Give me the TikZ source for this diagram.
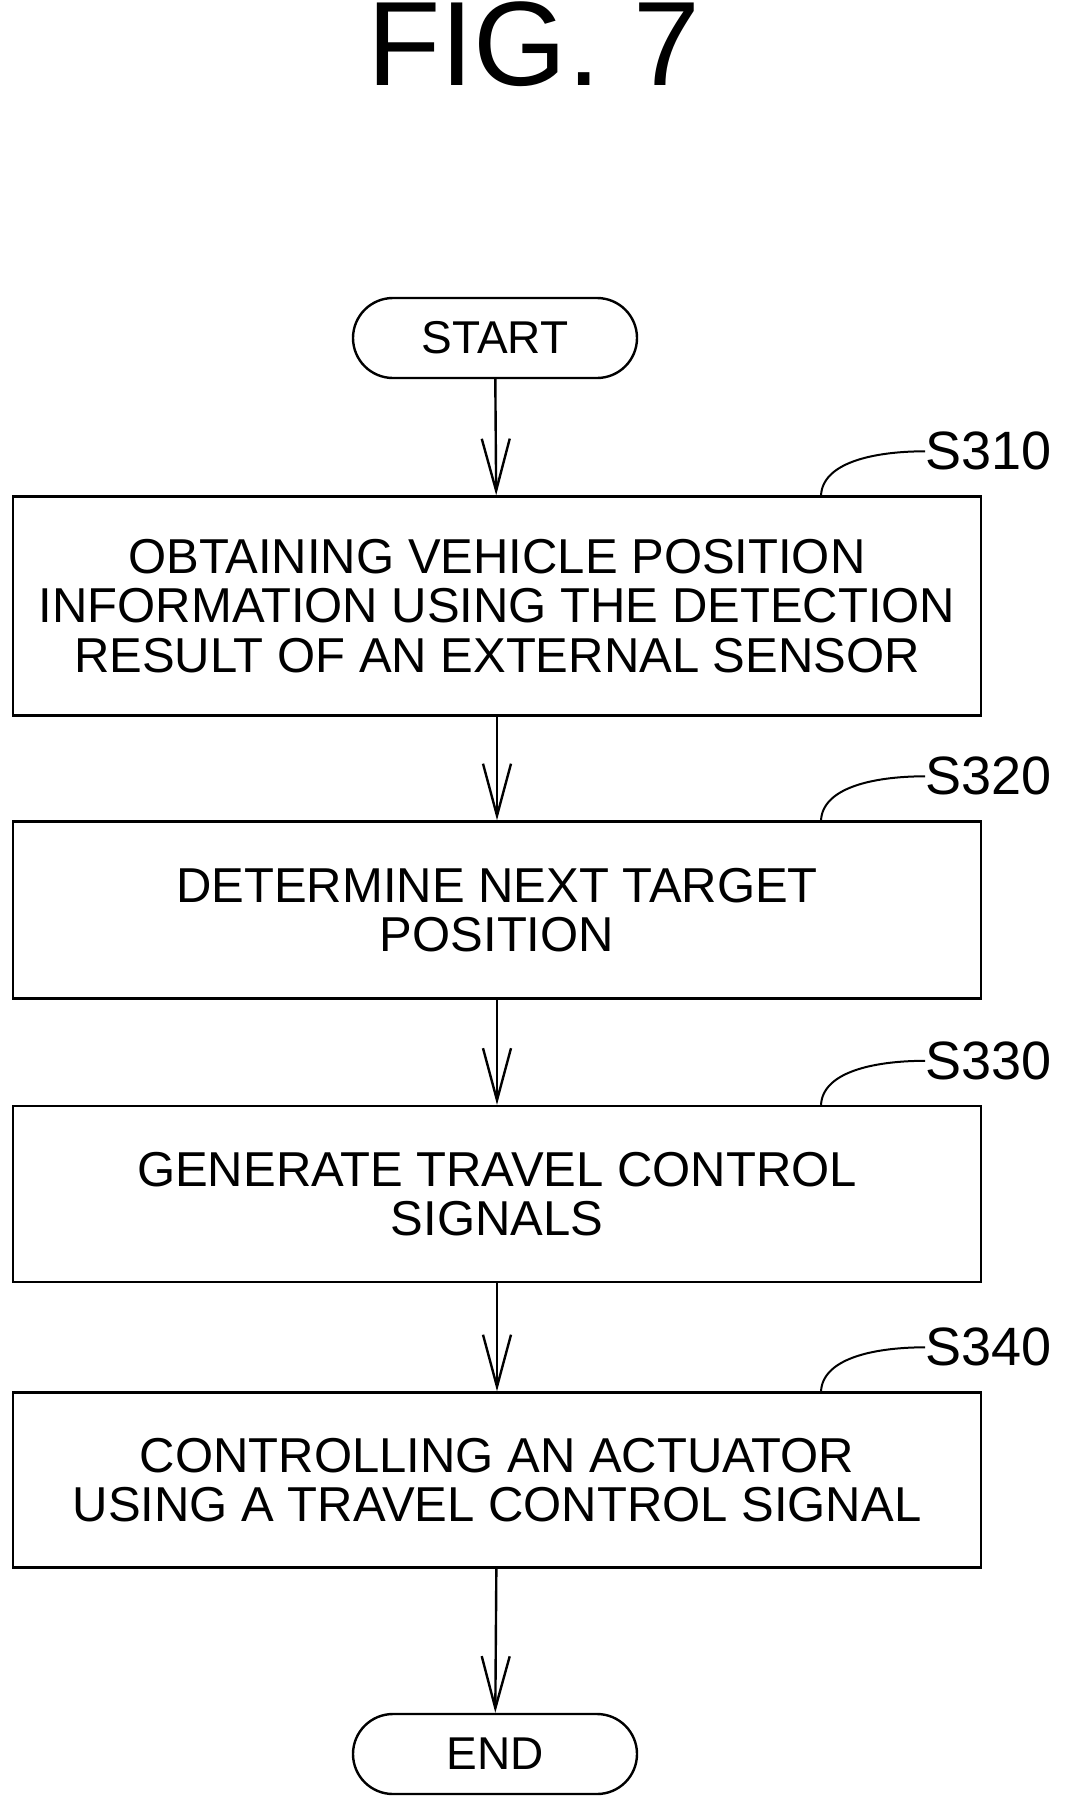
\documentclass[tikz,border=0pt]{standalone}
\usepackage{fontspec}
\setmainfont{Liberation Sans}
\usetikzlibrary{arrows.meta,positioning}
\tikzstyle{term} = [draw, line width=1.2pt, rounded corners=20pt, minimum width=142pt, minimum height=40pt, font=\fontsize{23}{26}\selectfont]
\tikzstyle{proc} = [draw, line width=1.2pt, minimum width=484pt, align=center, font=\fontsize{24.5}{24.8}\selectfont]
\tikzstyle{flow} = [line width=1.2pt, -{Straight Barb[length=26pt,width=14pt,line width=1.2pt]}]
\tikzstyle{tag} = [anchor=west, inner sep=0pt, font=\fontsize{27}{30}\selectfont]
\tikzstyle{lead} = [line width=1pt]

\begin{document}
\begin{tikzpicture}[x=0.5pt, y=-0.5pt]
\useasboundingbox (0,0) rectangle (1073,1814);
\node(title) at (534,44) {\fontsize{60}{62}\selectfont FIG. 7};
\node(start)[term] at (495,338) {START};
\node(s310)[proc, minimum height=109.5pt] at (497,606) {OBTAINING VEHICLE POSITION\\INFORMATION USING THE DETECTION\\RESULT OF AN EXTERNAL SENSOR};
\node(s320)[proc, minimum height=88.5pt] at (497,910) {DETERMINE NEXT TARGET\\POSITION};
\node(s330)[proc, minimum height=88pt] at (497,1194) {GENERATE TRAVEL CONTROL\\SIGNALS};
\node(s340)[proc, minimum height=87.5pt] at (497,1480) {CONTROLLING AN ACTUATOR\\USING A TRAVEL CONTROL SIGNAL};
\node(end)[term] at (495,1754) {END};
% step labels
\foreach \s/\n in {s310/S310, s320/S320, s330/S330, s340/S340} {
  \coordinate(\s a) at ([xshift=162pt]\s.north);
  \node(\s t)[tag] at ([xshift=214pt, yshift=22pt]\s.north) {\n};
  \draw[lead] (\s a) .. controls +(2,-35) and +(-45,0) .. (\s t.west);
}
\draw[flow](start)--(s310);
\draw[flow](s310)--(s320);
\draw[flow](s320)--(s330);
\draw[flow](s330)--(s340);
\draw[flow](s340)--(end);
\end{tikzpicture}
\end{document}
